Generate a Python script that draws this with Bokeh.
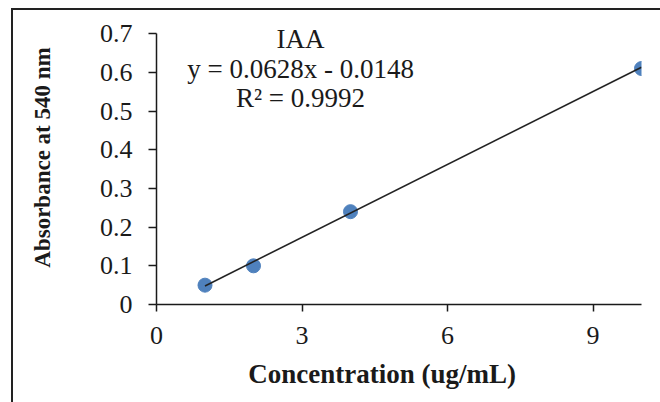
from bokeh.plotting import figure
from bokeh.models import Range1d, FixedTicker, CustomJSTickFormatter, Label
from bokeh.embed import file_html
from bokeh.resources import INLINE

# data
concentration = [1, 2, 4, 10]
absorbance = [0.05, 0.10, 0.24, 0.61]
slope = 0.0628
intercept = -0.0148
r_squared = 0.9992
series_name = "IAA"
x_ticks = [0, 3, 6, 9]
y_ticks = [0, 0.1, 0.2, 0.3, 0.4, 0.5, 0.6, 0.7]
x_title = "Concentration (ug/mL)"
y_title = "Absorbance at 540 nm"

trend_x = [min(concentration), max(concentration)]
trend_y = [slope * v + intercept for v in trend_x]

FONT = "Liberation Serif"
INK = "#1a1a1a"

# frame reaches a little above the 0.7 tick so the annotation is not clipped;
# the axis itself is bounded to 0..0.7
p = figure(width=660, height=402, output_backend="svg", toolbar_location=None,
           x_range=Range1d(0, 10), y_range=Range1d(0, 0.76),
           min_border_left=156, min_border_right=19, min_border_top=10, min_border_bottom=98)
p.background_fill_color = None
p.border_fill_color = None
p.outline_line_color = None
p.xgrid.visible = False
p.ygrid.visible = False
# outer frame of the figure (top and left edges)
p.styles = {
    "background": "linear-gradient(#222, #222) 11px 8px / 2px 100% no-repeat, "
                  "linear-gradient(#222, #222) 11px 8px / 100% 2px no-repeat, white",
}

for ax in (p.xaxis[0], p.yaxis[0]):
    ax.axis_line_color = INK
    ax.axis_line_width = 1.5
    ax.major_tick_line_color = INK
    ax.major_tick_line_width = 1.5
    ax.major_tick_in = 0
    ax.minor_tick_line_color = None
    ax.major_label_text_font = FONT
    ax.major_label_text_font_size = "26px"
    ax.major_label_text_color = INK
    ax.axis_label_text_font = FONT
    ax.axis_label_text_font_style = "bold"
    ax.axis_label_text_color = INK

p.yaxis.bounds = (0, 0.7)
p.xaxis.ticker = FixedTicker(ticks=x_ticks)
p.yaxis.ticker = FixedTicker(ticks=y_ticks)
p.xaxis.major_tick_out = 7
p.yaxis.major_tick_out = 8
p.xaxis.major_label_standoff = 15
p.yaxis.major_label_standoff = 16
p.yaxis.formatter = CustomJSTickFormatter(code="return tick == 0 ? '0' : tick.toFixed(1);")
p.xaxis.formatter = CustomJSTickFormatter(code="return tick.toFixed(0);")

p.xaxis.axis_label = x_title + "\u00a0" * 5
p.xaxis.axis_label_text_font_size = "27px"
p.xaxis.axis_label_standoff = 12
p.yaxis.axis_label = y_title
p.yaxis.axis_label_text_font_size = "23px"
p.yaxis.axis_label_standoff = 42

p.scatter(concentration, absorbance, size=14, color="#4F81BD", line_color="#4F81BD")
p.line(trend_x, trend_y, line_color="#222222", line_width=1.6)

# trendline annotation
eq_text = f"y = {slope}x - {abs(intercept)}"
r2_text = f"R\u00b2 = {r_squared}"
for txt, yy in ((series_name, 0.686), (eq_text, 0.609), (r2_text, 0.534)):
    p.add_layout(Label(x=2.97, y=yy, text=txt, text_font=FONT, text_font_size="27px",
                       text_align="center", text_baseline="alphabetic", text_color=INK))

open("out.html", "w").write(file_html(p, INLINE))
